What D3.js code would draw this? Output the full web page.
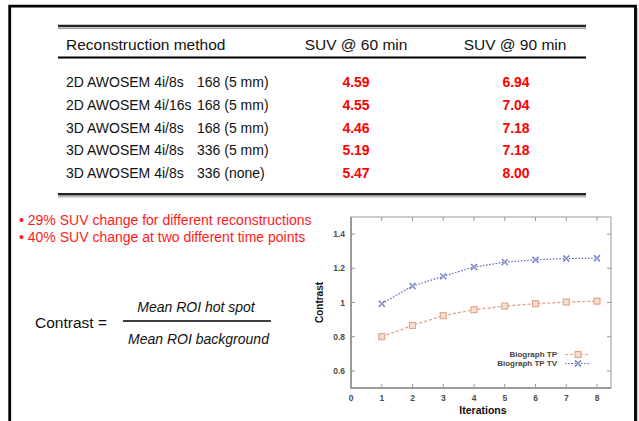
<!DOCTYPE html>
<html>
<head>
<meta charset="utf-8">
<script src="https://cdn.jsdelivr.net/npm/d3@7"></script>
<style>
  html, body { margin: 0; padding: 0; background: #fff; }
  svg { display: block; font-family: "Liberation Sans", Arial, sans-serif; }
</style>
</head>
<body>
<svg id="chart" width="639" height="421"></svg>
<script>
// ---- table data ----
const headers = ["Reconstruction method", "SUV @ 60 min", "SUV @ 90 min"];
const methods = ["2D AWOSEM 4i/8s", "2D AWOSEM 4i/16s", "3D AWOSEM 4i/8s", "3D AWOSEM 4i/8s", "3D AWOSEM 4i/8s"];
const matrices = ["168 (5 mm)", "168 (5 mm)", "168 (5 mm)", "336 (5 mm)", "336 (none)"];
const suv60 = ["4.59", "4.55", "4.46", "5.19", "5.47"];
const suv90 = ["6.94", "7.04", "7.18", "7.18", "8.00"];
const bullets = ["\u2022 29% SUV change for different reconstructions",
                 "\u2022 40% SUV change at two different time points"];

// ---- chart data ----
const iterations = [1, 2, 3, 4, 5, 6, 7, 8];
const seriesTP   = [0.80, 0.866, 0.923, 0.958, 0.979, 0.993, 1.003, 1.008];
const seriesTPTV = [0.993, 1.096, 1.153, 1.208, 1.236, 1.250, 1.257, 1.259];
const seriesNames = ["Biograph TP", "Biograph TP TV"];
const xTicks = [0, 1, 2, 3, 4, 5, 6, 7, 8];
const yTicks = [0.6, 0.8, 1.0, 1.2, 1.4];
const yTickLabels = ["0.6", "0.8", "1", "1.2", "1.4"];

const svg = d3.select("#chart");

// ---- frame ----
svg.append("path")
  .attr("d", "M9.7,421 L9.7,6.2 L635.5,6.2 L635.5,421")
  .attr("fill", "none").attr("stroke", "#000").attr("stroke-width", 2.8);
svg.append("line").attr("x1", 637.6).attr("x2", 637.6).attr("y1", 8).attr("y2", 421)
  .attr("stroke", "#c8c8c8").attr("stroke-width", 1.2);

// ---- table ----
const tableX0 = 58, tableX1 = 586;
svg.append("line").attr("x1", tableX0).attr("x2", tableX1).attr("y1", 26).attr("y2", 26)
  .attr("stroke", "#222").attr("stroke-width", 2.4);
svg.append("line").attr("x1", tableX0).attr("x2", tableX1).attr("y1", 28.6).attr("y2", 28.6)
  .attr("stroke", "#999").attr("stroke-width", 1);
svg.append("line").attr("x1", tableX0).attr("x2", tableX1).attr("y1", 57.6).attr("y2", 57.6)
  .attr("stroke", "#000").attr("stroke-width", 2);
svg.append("line").attr("x1", tableX0).attr("x2", tableX1).attr("y1", 194.3).attr("y2", 194.3)
  .attr("stroke", "#222").attr("stroke-width", 2.4);
svg.append("line").attr("x1", tableX0).attr("x2", tableX1).attr("y1", 196.9).attr("y2", 196.9)
  .attr("stroke", "#999").attr("stroke-width", 1);

const colX = [66, 356, 515];
const colAnchor = ["start", "middle", "middle"];
svg.selectAll("text.hdr").data(headers).join("text")
  .attr("class", "hdr")
  .attr("x", (d, i) => colX[i]).attr("y", 44.5)
  .attr("dominant-baseline", "central")
  .attr("text-anchor", (d, i) => colAnchor[i])
  .attr("font-size", 15.5).attr("fill", "#111")
  .text(d => d);

const rowY = d3.scaleLinear().domain([0, 4]).range([82, 173.3]);
const rows = methods.map((m, i) => ({ m, r: matrices[i], a: suv60[i], b: suv90[i], i }));
const rg = svg.selectAll("g.row").data(rows).join("g").attr("class", "row")
  .attr("transform", d => `translate(0,${rowY(d.i)})`);
rg.append("text").attr("x", 66).attr("dominant-baseline", "central")
  .attr("font-size", 14).attr("fill", "#111").text(d => d.m);
rg.append("text").attr("x", 197).attr("dominant-baseline", "central")
  .attr("font-size", 14).attr("fill", "#111").text(d => d.r);
rg.append("text").attr("x", colX[1]).attr("text-anchor", "middle").attr("dominant-baseline", "central")
  .attr("font-size", 14).attr("font-weight", "bold").attr("fill", "#ff0000").text(d => d.a);
rg.append("text").attr("x", colX[2] + 1).attr("text-anchor", "middle").attr("dominant-baseline", "central")
  .attr("font-size", 14).attr("font-weight", "bold").attr("fill", "#ff0000").text(d => d.b);

// ---- bullets ----
svg.selectAll("text.bul").data(bullets).join("text")
  .attr("class", "bul")
  .attr("x", 19).attr("y", (d, i) => 219.5 + i * 17)
  .attr("dominant-baseline", "central")
  .attr("font-size", 14).attr("fill", "#ff1a1a")
  .text(d => d);

// ---- contrast formula ----
svg.append("text").attr("x", 35).attr("y", 322).attr("dominant-baseline", "central")
  .attr("font-size", 15.5).attr("fill", "#111").text("Contrast  =");
svg.append("line").attr("x1", 123).attr("x2", 271).attr("y1", 321).attr("y2", 321)
  .attr("stroke", "#000").attr("stroke-width", 1.6);
svg.append("text").attr("x", 196).attr("y", 306.5).attr("text-anchor", "middle")
  .attr("dominant-baseline", "central").attr("font-size", 14).attr("font-style", "italic")
  .attr("fill", "#111").text("Mean ROI hot spot");
svg.append("text").attr("x", 198.5).attr("y", 338.5).attr("text-anchor", "middle")
  .attr("dominant-baseline", "central").attr("font-size", 14).attr("font-style", "italic")
  .attr("fill", "#111").text("Mean ROI background");

// ---- line chart ----
const px0 = 351, px1 = 611, py0 = 217, py1 = 388;
const x = d3.scaleLinear().domain([0, 8.455]).range([px0, px1]);
const y = d3.scaleLinear().domain([0.5, 1.5]).range([py1, py0]);
const g = svg.append("g");

g.append("rect").attr("x", px0).attr("y", py0).attr("width", px1 - px0).attr("height", py1 - py0)
  .attr("fill", "none").attr("stroke", "#9a9a9a").attr("stroke-width", 1);
g.append("path").attr("d", `M${px0},${py0} L${px0},${py1} L${px1},${py1}`)
  .attr("fill", "none").attr("stroke", "#8a8a8a").attr("stroke-width", 1.5);

const tk = 4;
xTicks.filter(t => t > 0).forEach(t => {
  g.append("line").attr("x1", x(t)).attr("x2", x(t)).attr("y1", py1).attr("y2", py1 - tk)
    .attr("stroke", "#999").attr("stroke-width", 1);
  g.append("line").attr("x1", x(t)).attr("x2", x(t)).attr("y1", py0).attr("y2", py0 + tk)
    .attr("stroke", "#999").attr("stroke-width", 1);
});
yTicks.forEach(t => {
  g.append("line").attr("x1", px0).attr("x2", px0 + tk).attr("y1", y(t)).attr("y2", y(t))
    .attr("stroke", "#999").attr("stroke-width", 1);
  g.append("line").attr("x1", px1).attr("x2", px1 - tk).attr("y1", y(t)).attr("y2", y(t))
    .attr("stroke", "#999").attr("stroke-width", 1);
});

const lblStyle = sel => sel.attr("font-size", 8.5).attr("font-weight", "bold").attr("fill", "#4a4a4a");
g.selectAll("text.xt").data(xTicks).join("text").attr("class", "xt")
  .attr("x", d => x(d)).attr("y", 398).attr("text-anchor", "middle")
  .attr("dominant-baseline", "central").call(lblStyle).text(d => d);
g.selectAll("text.yt").data(yTicks).join("text").attr("class", "yt")
  .attr("x", 345).attr("y", d => y(d)).attr("text-anchor", "end")
  .attr("dominant-baseline", "central").call(lblStyle).text((d, i) => yTickLabels[i]);

g.append("text").attr("x", (px0 + px1) / 2 + 2).attr("y", 410).attr("text-anchor", "middle")
  .attr("dominant-baseline", "central").attr("font-size", 10.5).attr("font-weight", "bold")
  .attr("fill", "#111").text("Iterations");
g.append("text").attr("transform", `translate(319,${(py0 + py1) / 2}) rotate(-90)`)
  .attr("text-anchor", "middle").attr("dominant-baseline", "central")
  .attr("font-size", 10).attr("font-weight", "bold").attr("fill", "#111").text("Contrast");

const colTP = "#e3a283", colTV = "#5f6cb8";
const line = d3.line().x((d, i) => x(iterations[i])).y(d => y(d));

g.append("path").attr("d", line(seriesTP)).attr("fill", "none")
  .attr("stroke", colTP).attr("stroke-width", 1.3).attr("stroke-dasharray", "3,2");
g.append("path").attr("d", line(seriesTPTV)).attr("fill", "none")
  .attr("stroke", colTV).attr("stroke-width", 1.2).attr("stroke-dasharray", "1.6,1.6");

function sq(sel, cx, cy) {
  sel.append("rect").attr("x", cx - 3).attr("y", cy - 3).attr("width", 6).attr("height", 6)
    .attr("fill", "#f7ddd0").attr("stroke", colTP).attr("stroke-width", 1.1);
}
function cross(sel, cx, cy) {
  sel.append("path").attr("d", `M${cx-3},${cy-3}L${cx+3},${cy+3}M${cx-3},${cy+3}L${cx+3},${cy-3}`)
    .attr("stroke", colTV).attr("stroke-width", 1.3).attr("fill", "none");
  sel.append("rect").attr("x", cx - 1.8).attr("y", cy - 1.8).attr("width", 3.6).attr("height", 3.6)
    .attr("fill", "#a8b0dc").attr("stroke", "none").attr("opacity", 0.7);
}
seriesTP.forEach((v, i) => sq(g, x(iterations[i]), y(v)));
seriesTPTV.forEach((v, i) => cross(g, x(iterations[i]), y(v)));

// legend
const legY = [354.5, 363.5];
const legCol = [colTP, colTV];
const legDash = ["3,2", "1.6,1.6"];
seriesNames.forEach((n, i) => {
  g.append("text").attr("x", 557).attr("y", legY[i]).attr("text-anchor", "end")
    .attr("dominant-baseline", "central").call(lblStyle).attr("font-size", 8).attr("fill", "#444").text(n);
  g.append("line").attr("x1", 565).attr("x2", 590).attr("y1", legY[i]).attr("y2", legY[i])
    .attr("stroke", legCol[i]).attr("stroke-width", 1.2).attr("stroke-dasharray", legDash[i]);
  if (i === 0) sq(g, 578, legY[i]); else cross(g, 578, legY[i]);
});
</script>
</body>
</html>
